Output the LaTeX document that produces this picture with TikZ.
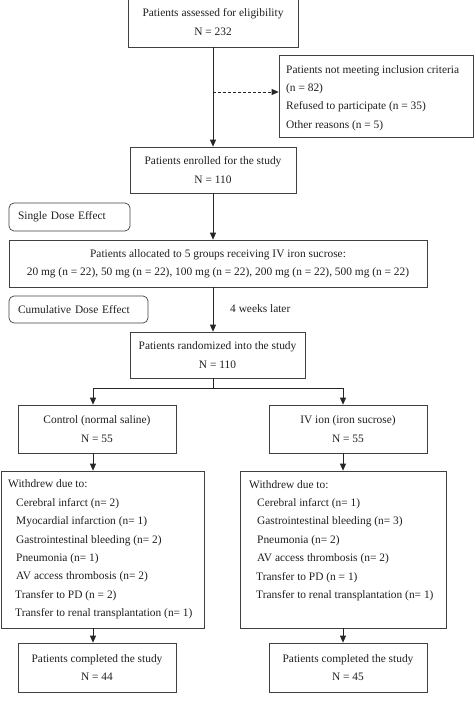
\documentclass[tikz,border=0pt]{standalone}
\usepackage{fontspec}
\setmainfont{Liberation Serif}
\usetikzlibrary{arrows.meta}
\newcommand{\txtsz}{\fontsize{11.4}{18.4}\selectfont}
\begin{document}
\begin{tikzpicture}[x=1pt,y=-1pt, font=\txtsz, text=black!88,
  box/.style={draw=black!75, line width=0.7pt, inner sep=0pt, align=center},
  rbox/.style={draw=black!75, line width=0.7pt, rounded corners=5pt, align=left, inner xsep=9pt, inner ysep=0pt},
  txt/.style={inner sep=0pt, align=left},
  arr/.style={draw=black!85, line width=0.8pt, -{Triangle[length=7pt,width=6pt]}},
  ln/.style={draw=black!85, line width=0.8pt}]
\useasboundingbox (0,0) rectangle (474,717);
\clip (0,0) rectangle (474,717);

\coordinate (Mx) at (213,0);
\coordinate (Lx) at (93,0);
\coordinate (Rx) at (343,0);
\coordinate (exa) at (213,92);
\coordinate (split) at (213,388);

\node[box, minimum width=170pt, minimum height=50pt] (elig) at (213,22) {Patients assessed for eligibility\\N = 232};
\node[box, minimum width=194pt, minimum height=82pt] (excl) at (376,96) {};
\node[txt, anchor=west] (exclt) at (286,98) {Patients not meeting inclusion criteria\\(n = 82)\\Refused to participate (n = 35)\\Other reasons (n = 5)};
\node[box, minimum width=166pt, minimum height=46pt] (enrol) at (213,170) {Patients enrolled for the study\\N = 110};
\node[rbox, text width=103pt, minimum height=28pt] (single) at (69.5,217) {Single Dose Effect};
\node[box, minimum width=418pt, minimum height=47pt] (alloc) at (218,263.5) {Patients allocated to 5 groups receiving IV iron sucrose:\\20 mg (n = 22), 50 mg (n = 22), 100 mg (n = 22), 200 mg (n = 22), 500 mg (n = 22)};
\node[rbox, text width=121pt, minimum height=27pt] (cumul) at (78.5,309.5) {Cumulative Dose Effect};
\node[txt, anchor=west] (later) at (230,309) {4 weeks later};
\node[box, minimum width=175pt, minimum height=46pt] (rand) at (217.5,355) {Patients randomized into the study\\N = 110};
\node[box, minimum width=158pt, minimum height=48pt] (ctrl) at (97,429) {Control (normal saline)\\N = 55};
\node[box, minimum width=158pt, minimum height=48pt] (iv) at (348,429) {IV ion (iron sucrose)\\N = 55};
\node[box, minimum width=203pt, minimum height=157pt] (wdL) at (102.5,549.5) {};
\node[txt, anchor=west] (wdLt) at (8,549.5) {Withdrew due to:\\
\hspace*{8pt}Cerebral infarct (n= 2)\\
\hspace*{8pt}Myocardial infarction (n= 1)\\
\hspace*{8pt}Gastrointestinal bleeding (n= 2)\\
\hspace*{8pt}Pneumonia (n= 1)\\
\hspace*{8pt}AV access thrombosis (n= 2)\\
\hspace*{7pt}Transfer to PD (n = 2)\\
\hspace*{7pt}Transfer to renal transplantation (n= 1)};
\node[box, minimum width=206pt, minimum height=157pt] (wdR) at (343,549.5) {};
\node[txt, anchor=west] (wdRt) at (249,540.5) {Withdrew due to:\\
\hspace*{8pt}Cerebral infarct (n= 1)\\
\hspace*{8pt}Gastrointestinal bleeding (n= 3)\\
\hspace*{8pt}Pneumonia (n= 2)\\
\hspace*{8pt}AV access thrombosis (n= 2)\\
\hspace*{7pt}Transfer to PD (n = 1)\\
\hspace*{7pt}Transfer to renal transplantation (n= 1)};
\node[box, minimum width=158pt, minimum height=49pt] (doneL) at (97,667.5) {Patients completed the study\\N = 44};
\node[box, minimum width=158pt, minimum height=49pt] (doneR) at (348,667.5) {Patients completed the study\\N = 45};

\draw[arr] (elig.south) -- (enrol.north);
\draw[arr, densely dashed] (exa) -- (exa -| excl.west);
\draw[arr] (enrol.south) -- (alloc.north -| enrol.south);
\draw[arr] (alloc.south -| Mx) -- (rand.north -| Mx);
\draw[ln] (rand.south -| Mx) -- (split);
\draw[ln] (split -| Lx) -- (split -| Rx);
\draw[arr] (split -| Lx) -- (ctrl.north -| Lx);
\draw[arr] (split -| Rx) -- (iv.north -| Rx);
\draw[arr] (ctrl.south -| Lx) -- (wdL.north -| Lx);
\draw[arr] (iv.south -| Rx) -- (wdR.north -| Rx);
\draw[arr] (wdL.south -| Lx) -- (doneL.north -| Lx);
\draw[arr] (wdR.south -| Rx) -- (doneR.north -| Rx);
\end{tikzpicture}
\end{document}
